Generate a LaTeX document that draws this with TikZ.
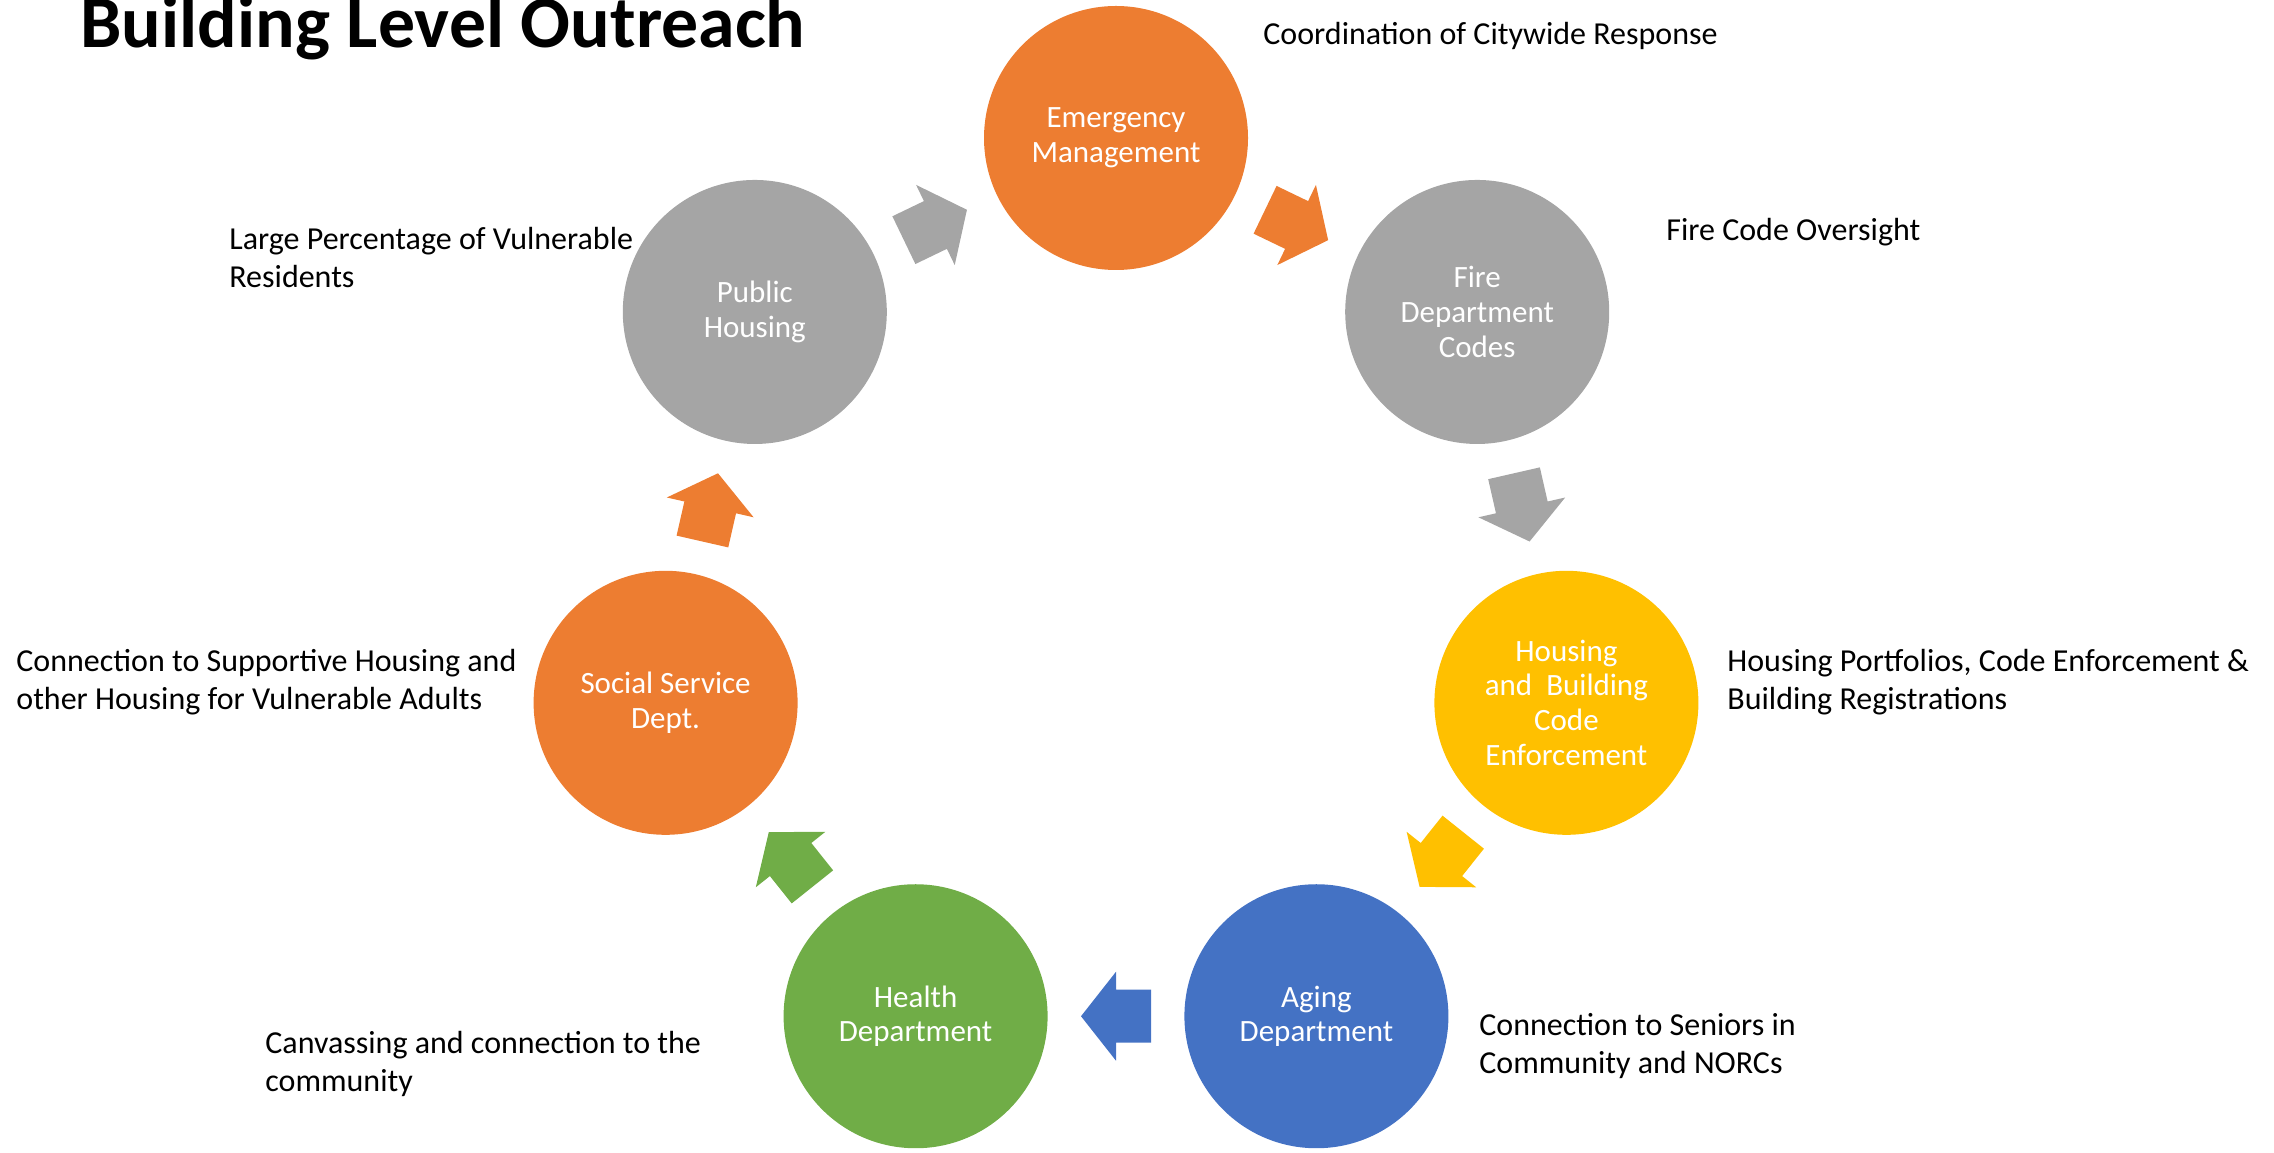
\documentclass[tikz,border=0pt]{standalone}
\usepackage{fontspec}
\setmainfont{Carlito}
\usepackage{tikz}
\usetikzlibrary{positioning}
\usetikzlibrary{calc}
\definecolor{emorange}{HTML}{ED7D31}
\definecolor{codegray}{HTML}{A5A5A5}
\definecolor{bldyellow}{HTML}{FFC000}
\definecolor{agingblue}{HTML}{4472C4}
\definecolor{healthgreen}{HTML}{70AD47}
\tikzset{
    cycle diagram/.style={
            x=0.5pt,y=0.5pt,
            hub/.style={circle,draw=none,minimum size=132pt,inner sep=0pt,
                text=white,align=center,font=\fontsize{15.5}{17.4}\selectfont},
            note/.style={anchor=west,inner sep=0pt,align=left,
                font=\fontsize{16}{19}\selectfont}
        },
    fatarrow/.pic={
            \fill[#1] (-35,-26.5) -- (0,-26.5) -- (0,-44.5) -- (35,0)
                -- (0,44.5) -- (0,26.5) -- (-35,26.5) -- cycle;
        }
    }

\begin{document}
\begin{tikzpicture}[cycle diagram]
                \useasboundingbox (0,0) rectangle (2274,1152);
                \coordinate (ctr) at (1116,552);
                \node (title) [anchor=base west,inner sep=0pt,
                    font=\bfseries\fontsize{36.9}{44}\selectfont] at (80,1104) {Building Level Outreach};
                % the seven offices, round the cycle
                \node (em) [hub, fill=emorange] at ($(ctr)+(90:462)$) {Emergency\\Management};
                \node (fire) [hub, fill=codegray] at ($(ctr)+(38.57:462)$) {Fire\\Department\\Codes};
                \node (bld) [hub, fill=bldyellow] at ($(ctr)+(-12.86:462)$) {Housing\\and~ Building\\Code\\Enforcement};
                \node (aging) [hub, fill=agingblue] at ($(ctr)+(-64.29:462)$) {Aging\\Department};
                \node (health) [hub, fill=healthgreen] at ($(ctr)+(-115.71:462)$) {Health\\Department};
                \node (social) [hub, fill=emorange] at ($(ctr)+(-167.14:462)$) {Social Service\\Dept.};
                \node (pubh) [hub, fill=codegray] at ($(ctr)+(141.43:462)$) {Public\\Housing};
                % block arrows between neighbours
                \foreach \a/\b/\c in {em/fire/emorange, fire/bld/codegray, bld/aging/bldyellow,
                        aging/health/agingblue, health/social/healthgreen,
                        social/pubh/emorange, pubh/em/codegray}
                    \path let \p1=($(\b)-(\a)$), \n1={atan2(\y1,\x1)} in
                        pic[rotate=\n1] at ($(\a)!0.5!(\b)$) {fatarrow=\c};
                % notes
                \node (emnote) [note] at (1263,1116) {Coordination of Citywide Response};
                \node (firenote) [note] at (1666,920) {Fire Code Oversight};
                \node (bldnote) [note] at (1727,470) {Housing Portfolios, Code Enforcement \&\\Building Registrations};
                \node (agingnote) [note] at (1479,106) {Connection to Seniors in\\Community and NORCs};
                \node (healthnote) [note] at (265,88) {Canvassing and connection to the\\community};
                \node (socialnote) [note] at (16,470) {Connection to Supportive Housing and\\other Housing for Vulnerable Adults};
                \node (pubhnote) [note] at (229,894) {Large Percentage of Vulnerable\\Residents};
            \end{tikzpicture}
\end{document}
